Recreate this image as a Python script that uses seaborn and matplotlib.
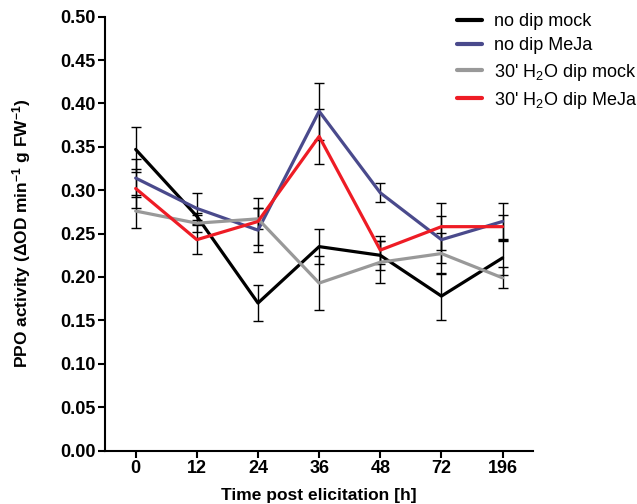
import matplotlib
matplotlib.use("Agg")
import matplotlib.pyplot as plt
import seaborn as sns
import numpy as np
import pandas as pd

times = ["0", "12", "24", "36", "48", "72", "196"]
series_names = ["no dip mock", "no dip MeJa", "30' H$_2$O dip mock", "30' H$_2$O dip MeJa"]

nodip_mock = [0.347, 0.270, 0.170, 0.235, 0.225, 0.178, 0.222]
nodip_meja = [0.314, 0.279, 0.254, 0.391, 0.297, 0.243, 0.264]
h2o_mock = [0.276, 0.262, 0.267, 0.193, 0.217, 0.227, 0.199]
h2o_meja = [0.302, 0.243, 0.264, 0.362, 0.231, 0.258, 0.258]

nodip_mock_err = [0.026, 0.004, 0.021, 0.020, 0.017, 0.027, 0.020]
nodip_meja_err = [0.022, 0.018, 0.025, 0.033, 0.011, 0.027, 0.021]
h2o_mock_err = [0.019, 0.010, 0.012, 0.031, 0.024, 0.024, 0.012]
h2o_meja_err = [0.022, 0.017, 0.027, 0.032, 0.016, 0.027, 0.014]

colors = ["#000000", "#4A4A8C", "#999999", "#EE1C25"]

means = [nodip_mock, nodip_meja, h2o_mock, h2o_meja]
errs = [nodip_mock_err, nodip_meja_err, h2o_mock_err, h2o_meja_err]

rows = []
for name, m, e in zip(series_names, means, errs):
    for i, t in enumerate(times):
        rows.append({"pos": i, "time": t, "series": name, "value": m[i], "err": e[i]})
df = pd.DataFrame(rows)

sns.set_theme(style="ticks")
plt.rcParams["font.family"] = ["Liberation Sans", "DejaVu Sans"]
plt.rcParams["mathtext.default"] = "regular"
plt.rcParams["text.color"] = "black"
plt.rcParams["axes.labelcolor"] = "black"
plt.rcParams["xtick.color"] = "black"
plt.rcParams["ytick.color"] = "black"

fig = plt.figure(figsize=(6.37, 5.04), dpi=100)
ax = fig.add_axes([0.165, 0.106, 0.672, 0.861])

for name, col in zip(series_names, colors):
    sub = df[df["series"] == name]
    ax.errorbar(sub["pos"], sub["value"], yerr=sub["err"], fmt="none",
                ecolor="black", elinewidth=1.0, capsize=3.8, capthick=1.0, zorder=1)

sns.lineplot(data=df, x="pos", y="value", hue="series", hue_order=series_names,
             palette=colors, linewidth=2.3, ax=ax, zorder=3, errorbar=None)

handles, labels = ax.get_legend_handles_labels()
if ax.get_legend() is not None:
    ax.get_legend().remove()

ax.set_xlim(-0.5, 6.5)
ax.set_ylim(0, 0.5)
ax.set_xticks(range(len(times)))
ax.set_xticklabels(times)
ax.set_yticks(np.arange(0, 0.501, 0.05))
ax.set_yticklabels([f"{v:.2f}" for v in np.arange(0, 0.501, 0.05)])

for lab in ax.get_xticklabels() + ax.get_yticklabels():
    lab.set_fontweight("bold")
    lab.set_fontsize(13)
    lab.set_color("black")

ax.tick_params(axis="both", direction="out", length=5, width=1.5, colors="black", pad=2)
for s in ["left", "bottom"]:
    ax.spines[s].set_linewidth(1.5)
    ax.spines[s].set_color("black")
sns.despine(ax=ax)

ax.set_xlabel("Time post elicitation [h]", fontsize=12.5, fontweight="bold", labelpad=8)
ax.set_ylabel("PPO activity (\u0394OD min$^{-1}$ g FW$^{-1}$)", fontsize=12.5,
              fontweight="bold", labelpad=19)

leg = fig.legend(handles, labels, loc="upper left", bbox_to_anchor=(0.717, 0.974),
                 bbox_transform=fig.transFigure, frameon=False, fontsize=13,
                 handlelength=1.4, handletextpad=0.66, labelspacing=0.4,
                 borderpad=0, borderaxespad=0)
for t in leg.get_texts():
    t.set_color("black")
for h in leg.legend_handles:
    h.set_linewidth(3)

fig.savefig("out.png", dpi=100)
